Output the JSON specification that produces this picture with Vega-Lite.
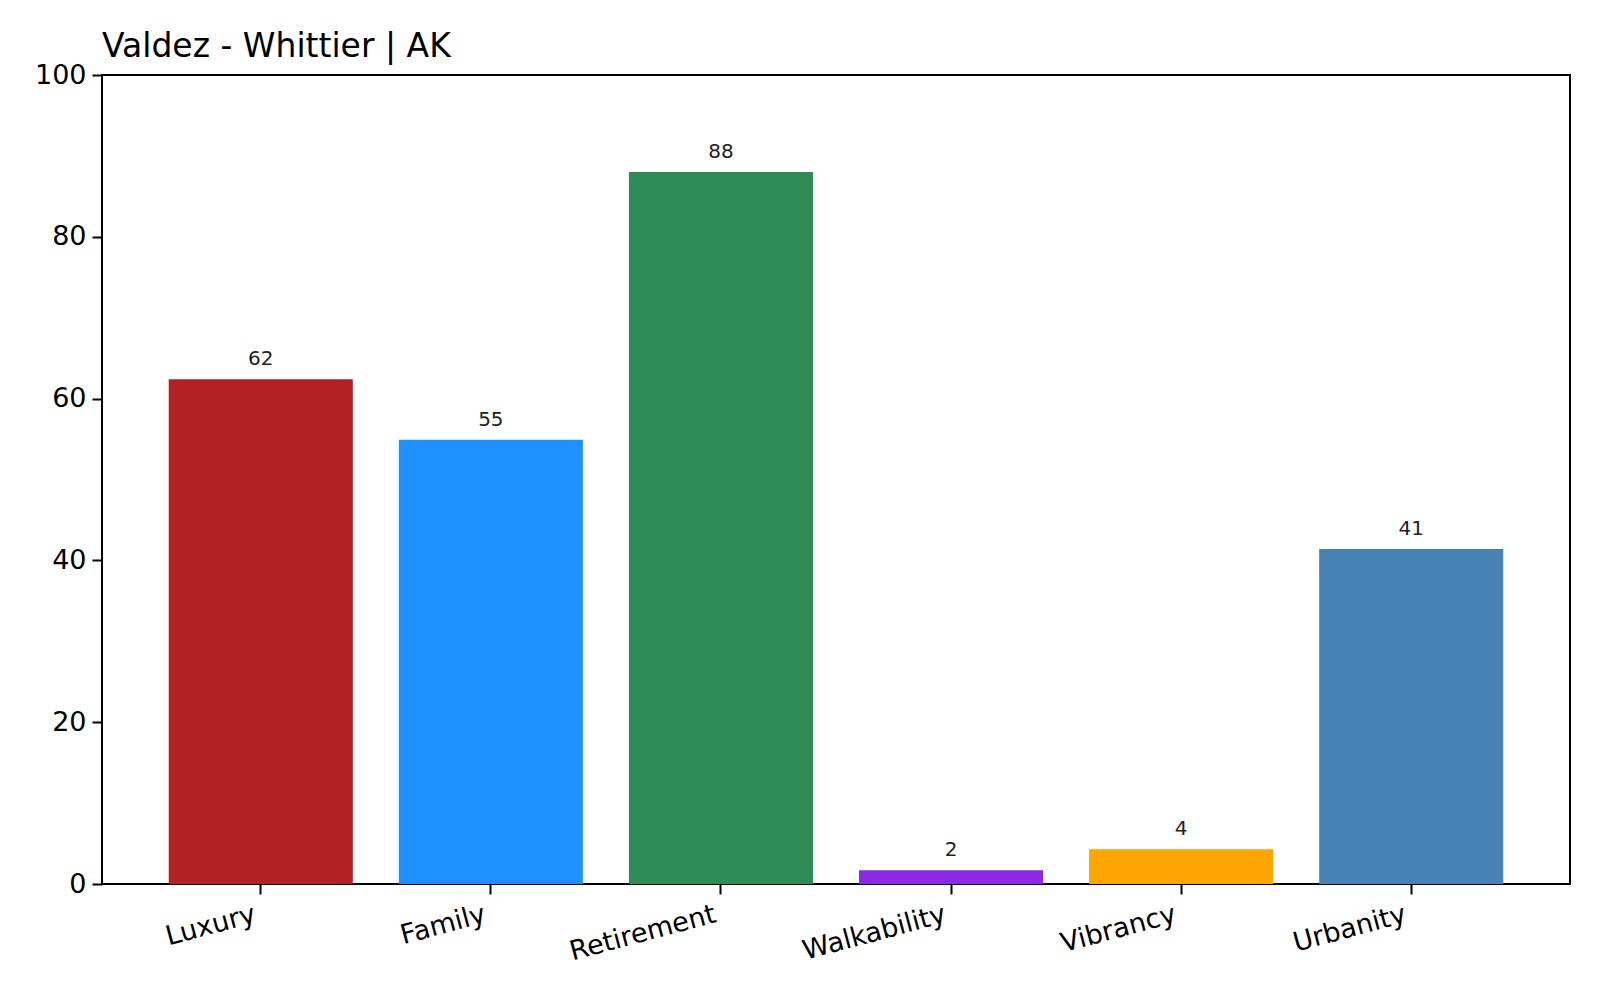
{
  "$schema": "https://vega.github.io/schema/vega-lite/v6.json",
  "width": 1468,
  "height": 809,
  "autosize": {"type": "none"},
  "padding": {"left": 102, "top": 75, "right": 30, "bottom": 116},
  "background": "white",
  "title": {
    "text": "Valdez - Whittier | AK",
    "anchor": "start",
    "frame": "group",
    "offset": -3,
    "font": "DejaVu Sans",
    "fontSize": 33,
    "fontWeight": "normal",
    "color": "black"
  },
  "config": {
    "view": {"stroke": "black", "strokeWidth": 2},
    "font": "DejaVu Sans"
  },
  "data": {
    "values": [
      {"category": "Luxury", "value": 62.4, "color": "#B22222"},
      {"category": "Family", "value": 54.9, "color": "#1E90FF"},
      {"category": "Retirement", "value": 88.0, "color": "#2E8B57"},
      {"category": "Walkability", "value": 1.7, "color": "#8A2BE2"},
      {"category": "Vibrancy", "value": 4.3, "color": "#FFA500"},
      {"category": "Urbanity", "value": 41.4, "color": "#4682B4"}
    ]
  },
  "encoding": {
    "x": {
      "field": "category",
      "type": "nominal",
      "sort": null,
      "scale": {"paddingInner": 0.2, "paddingOuter": 0.29},
      "axis": {
        "title": null,
        "labelAngle": -15,
        "labelAlign": "right",
        "labelBaseline": "top",
        "labelFont": "DejaVu Sans",
        "labelFontSize": 27,
        "labelColor": "black",
        "labelPadding": 7,
        "labelOffset": -9,
        "tickSize": 10,
        "tickWidth": 2,
        "tickColor": "black",
        "domain": false,
        "grid": false
      }
    },
    "y": {
      "field": "value",
      "type": "quantitative",
      "scale": {"domain": [0, 100], "nice": false},
      "axis": {
        "title": null,
        "values": [0, 20, 40, 60, 80, 100],
        "labelFont": "DejaVu Sans",
        "labelFontSize": 27,
        "labelColor": "black",
        "labelPadding": 6,
        "tickSize": 10,
        "tickWidth": 2,
        "tickColor": "black",
        "domain": false,
        "grid": false
      }
    }
  },
  "layer": [
    {
      "mark": {"type": "bar"},
      "encoding": {
        "color": {"field": "color", "type": "nominal", "scale": null, "legend": null}
      }
    },
    {
      "mark": {"type": "text", "baseline": "bottom", "dy": -10, "fontSize": 20, "font": "DejaVu Sans", "color": "#222222"},
      "encoding": {
        "text": {"field": "value", "type": "quantitative", "format": ".0f"}
      }
    }
  ]
}
